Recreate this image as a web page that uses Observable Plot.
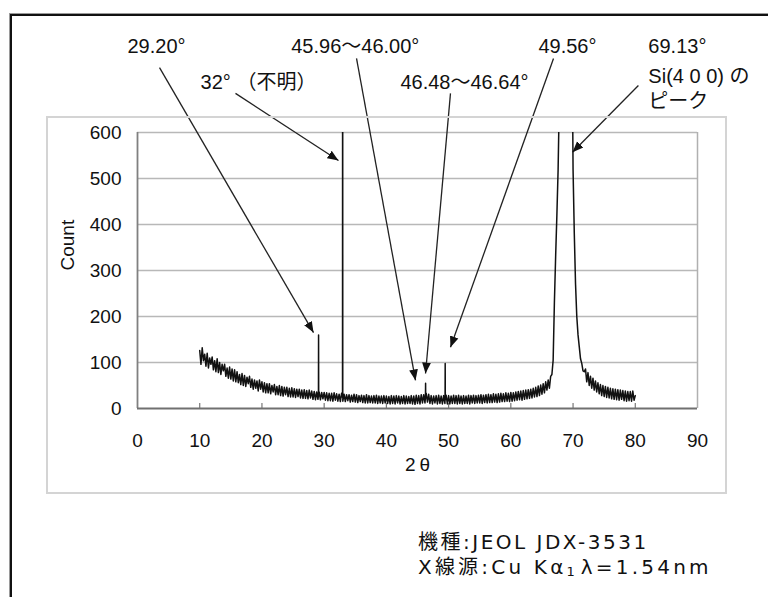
<!DOCTYPE html>
<html><head><meta charset="utf-8">
<script src="https://cdn.jsdelivr.net/npm/d3@7"></script>
<script src="https://cdn.jsdelivr.net/npm/@observablehq/plot@0.6"></script>
<style>
html,body{margin:0;padding:0;width:768px;height:597px;overflow:hidden;background:#fff;}
#wrap{position:relative;width:768px;height:597px;}
#chart{position:absolute;left:0;top:0;}
#box{position:absolute;left:46px;top:116px;width:681px;height:378px;box-sizing:border-box;border:2px solid #d4d4d4;pointer-events:none;}
#outer{position:absolute;left:10px;top:14px;width:800px;height:700px;border-top:2px solid #111;border-left:2px solid #111;box-shadow:-1px -1px 0 #9a9a9a;pointer-events:none;}
#caption{position:absolute;left:418px;top:530px;font-family:'DejaVu Sans','Noto Sans CJK JP',sans-serif;font-size:20px;line-height:25px;color:#111;white-space:nowrap;}
#caption .l1{letter-spacing:2.5px;}
#caption .l2{letter-spacing:3.2px;}
#caption sub{font-size:13px;vertical-align:-2px;letter-spacing:0;margin-right:6px;}
</style></head>
<body><div id="wrap">
<div id="chart"></div>
<div id="box"></div>
<div id="outer"></div>
<div id="caption"><div class="l1">機種:JEOL JDX-3531</div><div class="l2">X線源:Cu Kα<sub>1</sub>λ=1.54nm</div></div>
</div>
<script>
// Axis ticks
const xTicks = [0, 10, 20, 30, 40, 50, 60, 70, 80, 90];
const yTicks = [0, 100, 200, 300, 400, 500, 600];

// Scan readings: [start angle, count at +0, +0.2, +0.4, +0.6, +0.8]
const scanRows = [
  [10, 126, 96, 132, 104, 118],
  [11, 92, 120, 88, 110, 96],
  [12, 112, 84, 104, 80, 108],
  [13, 78, 100, 74, 96, 82],
  [14, 96, 70, 88, 66, 90],
  [15, 64, 86, 60, 84, 58],
  [16, 80, 56, 74, 52, 76],
  [17, 50, 72, 48, 68, 54],
  [18, 70, 46, 64, 42, 62],
  [19, 44, 60, 38, 62, 42],
  [20, 58, 36, 56, 34, 54],
  [21, 34, 54, 32, 50, 36],
  [22, 52, 30, 48, 30, 50],
  [23, 28, 48, 27, 46, 30],
  [24, 46, 26, 44, 25, 45],
  [25, 25, 43, 24, 42, 26],
  [26, 42, 23, 40, 22, 41],
  [27, 22, 39, 21, 40, 23],
  [28, 38, 20, 37, 19, 36],
  [29, 20, 36, 19, 35, 21],
  [30, 35, 18, 34, 17, 33],
  [31, 17, 33, 16, 34, 18],
  [32, 32, 16, 31, 15, 33],
  [33, 16, 31, 15, 30, 17],
  [34, 30, 14, 29, 15, 31],
  [35, 14, 30, 13, 28, 15],
  [36, 29, 13, 28, 12, 30],
  [37, 12, 28, 13, 27, 12],
  [38, 28, 12, 29, 11, 27],
  [39, 12, 27, 11, 28, 12],
  [40, 27, 11, 26, 10, 28],
  [41, 11, 27, 10, 28, 12],
  [42, 27, 10, 26, 11, 28],
  [43, 10, 27, 11, 26, 11],
  [44, 28, 10, 27, 9, 29],
  [45, 11, 28, 10, 30, 12],
  [46, 30, 12, 33, 14, 31],
  [47, 11, 28, 10, 27, 12],
  [48, 28, 10, 29, 11, 27],
  [49, 10, 28, 11, 29, 10],
  [50, 28, 10, 27, 11, 29],
  [51, 11, 28, 10, 29, 11],
  [52, 27, 10, 28, 11, 27],
  [53, 11, 29, 10, 28, 12],
  [54, 29, 11, 28, 12, 29],
  [55, 12, 30, 11, 29, 13],
  [56, 30, 12, 31, 13, 30],
  [57, 13, 32, 14, 31, 13],
  [58, 32, 14, 33, 15, 32],
  [59, 15, 34, 16, 33, 15],
  [60, 35, 16, 34, 17, 36],
  [61, 18, 37, 19, 38, 18],
  [62, 39, 20, 40, 21, 41],
  [63, 22, 42, 23, 44, 25],
  [64, 46, 26, 49, 28, 51],
  [65, 31, 54, 34, 58, 40],
  [66, 62, 44, 70, 74, 105],
  [67, 230, 330, 420, 520, 680],
  [68, 1000, 1600, 2500, 4000, 5500],
  [69, 6000, 6000, 4000, 2000, 900],
  [70, 520, 380, 270, 200, 160],
  [71, 134, 108, 98, 82, 80],
  [72, 86, 58, 78, 50, 70],
  [73, 44, 66, 40, 60, 36],
  [74, 56, 32, 52, 28, 50],
  [75, 26, 48, 24, 46, 23],
  [76, 44, 21, 43, 20, 42],
  [77, 19, 41, 18, 40, 20],
  [78, 39, 17, 38, 16, 37],
  [79, 17, 37, 16, 38, 18],
  [80, 28]
];
const scanStep = 0.2;

// Narrow diffraction peaks
const peakTheta = [29.08, 29.1, 29.12, 32.95, 32.97, 32.99, 46.28, 46.3, 46.32, 49.43, 49.45, 49.47];
const peakCount = [28, 160, 28, 24, 1500, 24, 24, 55, 24, 18, 98, 18];

// Annotation labels (centered)
const labelText  = ["29.20°", "45.96～46.00°", "49.56°", "32° （不明）", "46.48～46.64°"];
const labelTheta = [3.05, 35.0, 69.1, 19.45, 52.55];
const labelCount = [787, 787, 787, 709, 709];
// Annotation labels (left aligned)
const noteText  = ["69.13°", "Si(4 0 0) の", "ピーク"];
const noteTheta = [82.1, 82.1, 82.1];
const noteCount = [787, 722, 667];

// Arrows
const arrowFromTheta = [3.54, 15.75, 35.2, 50.3, 66.86, 80.5];
const arrowFromCount = [741, 685, 761, 685, 761, 702];
const arrowToTheta   = [28.29, 32.3, 44.68, 46.29, 50.3, 69.91];
const arrowToCount   = [165, 539, 61, 76, 133, 557];

const scan = [];
scanRows.forEach(r => r.slice(1).forEach((c, j) => scan.push({t: +(r[0] + j * scanStep).toFixed(2), c})));
peakTheta.forEach((t, i) => scan.push({t, c: peakCount[i]}));
scan.sort((a, b) => a.t - b.t);

const labels = labelText.map((s, i) => ({s, t: labelTheta[i], c: labelCount[i]}));
const notes = noteText.map((s, i) => ({s, t: noteTheta[i], c: noteCount[i]}));
const arrows = arrowFromTheta.map((t, i) => ({t1: t, c1: arrowFromCount[i], t2: arrowToTheta[i], c2: arrowToCount[i]}));

const W = 768, H = 497, mT = 132, mL = 137, mR = 71, mB = 89;
const plotH = H - mT - mB;
const font = "'Liberation Sans', Arial, 'Noto Sans CJK JP', sans-serif";

const chart = Plot.plot({
  width: W, height: H,
  marginTop: mT, marginLeft: mL, marginRight: mR, marginBottom: mB,
  style: {background: "transparent", fontFamily: font, fontSize: "19px", color: "#111", overflow: "visible"},
  x: {domain: [0, 90]},
  y: {domain: [0, 600]},
  marks: [
    Plot.gridY(yTicks.slice(1), {stroke: "#b8b8b8", strokeOpacity: 1, strokeWidth: 1.5}),
    Plot.ruleX([90], {stroke: "#b0b0b0", strokeWidth: 1.5}),
    Plot.tickX(xTicks.slice(1, -1), {x: d => d, insetTop: plotH - 5, stroke: "#777", strokeWidth: 1.2}),
    Plot.ruleX([0], {stroke: "#808080", strokeWidth: 1.8}),
    Plot.ruleY([0], {stroke: "#707070", strokeWidth: 1.8}),
    Plot.axisX({ticks: xTicks, tickSize: 0, tickPadding: 25, label: null, fontSize: 19}),
    Plot.axisY({ticks: yTicks, tickSize: 0, tickPadding: 16, label: null, fontSize: 19}),
    Plot.text(["2\u2009θ"], {frameAnchor: "bottom", dy: 62, fontSize: 19}),
    Plot.text(["Count"], {frameAnchor: "left", dx: -70, rotate: -90, fontSize: 19}),
    Plot.line(scan, {x: "t", y: "c", stroke: "#111", strokeWidth: 1.5, strokeLinejoin: "round", clip: true}),
    Plot.link(arrows, {x1: "t1", y1: "c1", x2: "t2", y2: "c2", stroke: "#222", strokeWidth: 1.3, markerEnd: "arrow"}),
    Plot.text(labels, {x: "t", y: "c", text: "s", textAnchor: "middle", fontSize: 20, fill: "#111"}),
    Plot.text(notes, {x: "t", y: "c", text: "s", textAnchor: "start", fontSize: 20, fill: "#111"})
  ]
});

d3.select(chart).selectAll("marker").each(function() {
  const m = d3.select(this);
  m.attr("viewBox", "-10 -5 10 10")
   .attr("markerUnits", "userSpaceOnUse")
   .attr("markerWidth", 11).attr("markerHeight", 11)
   .attr("fill", "#111").attr("stroke", "none");
  m.selectAll("path").attr("d", "M-10,-4L0,0L-10,4Z");
});

document.getElementById("chart").appendChild(chart);
</script>
</body></html>
